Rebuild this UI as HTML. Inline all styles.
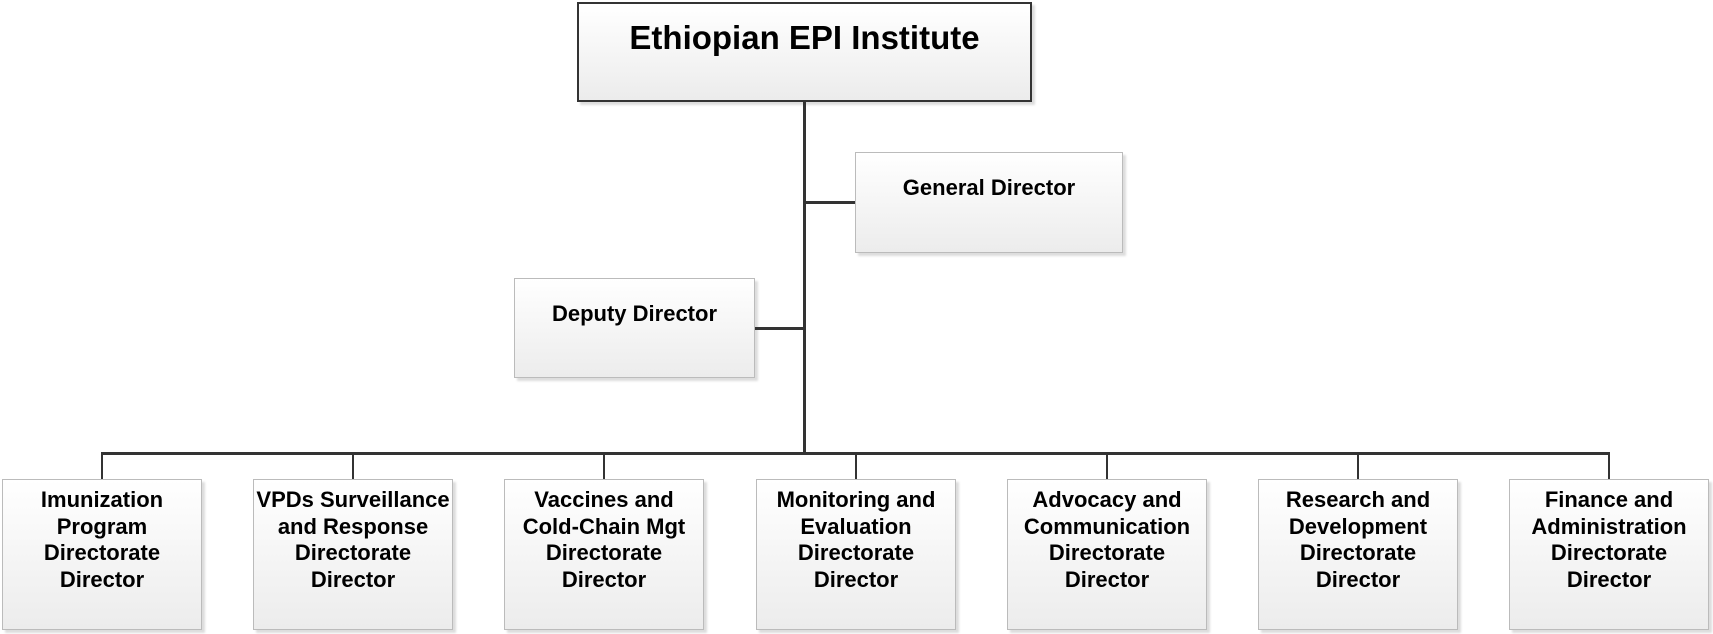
<!DOCTYPE html>
<html><head><style>
body{margin:0;width:1713px;height:634px;background:#fff;position:relative;overflow:hidden;font-family:"Liberation Sans",sans-serif;font-weight:bold;color:#000}
.b{position:absolute;box-sizing:border-box;border:1px solid #bbb;background:linear-gradient(#fff,#ececec);box-shadow:3px 3px 2px #ddd;text-align:center}
.l{position:absolute;background:#333}
.s{font-size:22px;line-height:26.7px;padding-top:7px}
</style></head><body>
<div class="b" style="left:577px;top:2px;width:455px;height:100px;border:2px solid #333;font-size:33px;padding-top:15px">Ethiopian EPI Institute</div>
<div class="b" style="left:855px;top:152px;width:268px;height:101px;font-size:22px;padding-top:22px">General Director</div>
<div class="b" style="left:514px;top:278px;width:241px;height:100px;font-size:22px;padding-top:22px">Deputy Director</div>
<div class="l" style="left:803px;top:102px;width:3px;height:352px"></div>
<div class="l" style="left:805px;top:201px;width:50px;height:3px"></div>
<div class="l" style="left:755px;top:327px;width:49px;height:3px"></div>
<div class="l" style="left:101px;top:452px;width:1509px;height:3px"></div>
<div class="l" style="left:101px;top:453px;width:2px;height:26px"></div>
<div class="l" style="left:352px;top:453px;width:2px;height:26px"></div>
<div class="l" style="left:603px;top:453px;width:2px;height:26px"></div>
<div class="l" style="left:855px;top:453px;width:2px;height:26px"></div>
<div class="l" style="left:1106px;top:453px;width:2px;height:26px"></div>
<div class="l" style="left:1357px;top:453px;width:2px;height:26px"></div>
<div class="l" style="left:1608px;top:453px;width:2px;height:26px"></div>
<div class="b s" style="left:2px;top:479px;width:200px;height:151px">Imunization<br>Program<br>Directorate<br>Director</div>
<div class="b s" style="left:253px;top:479px;width:200px;height:151px">VPDs Surveillance<br>and Response<br>Directorate<br>Director</div>
<div class="b s" style="left:504px;top:479px;width:200px;height:151px">Vaccines and<br>Cold-Chain Mgt<br>Directorate<br>Director</div>
<div class="b s" style="left:756px;top:479px;width:200px;height:151px">Monitoring and<br>Evaluation<br>Directorate<br>Director</div>
<div class="b s" style="left:1007px;top:479px;width:200px;height:151px">Advocacy and<br>Communication<br>Directorate<br>Director</div>
<div class="b s" style="left:1258px;top:479px;width:200px;height:151px">Research and<br>Development<br>Directorate<br>Director</div>
<div class="b s" style="left:1509px;top:479px;width:200px;height:151px">Finance and<br>Administration<br>Directorate<br>Director</div>
</body></html>
